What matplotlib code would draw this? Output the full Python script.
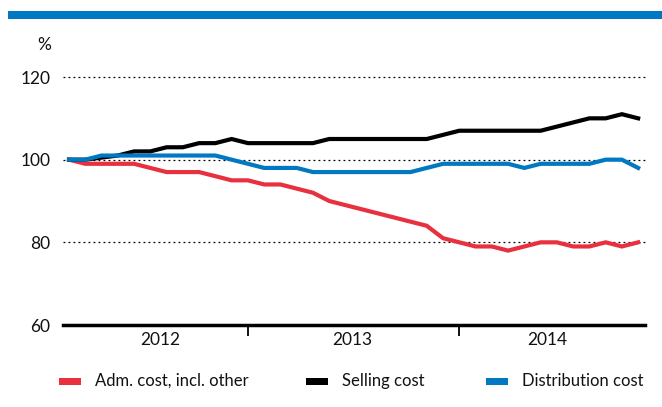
import matplotlib
matplotlib.use("Agg")
import matplotlib.pyplot as plt
from matplotlib.patches import Rectangle
import matplotlib.transforms as mtransforms

plt.rcParams['font.family'] = ['Lato', 'DejaVu Sans']

# Monthly index values (Jan 2012 = 100), 36 points
adm_cost = [100, 99, 99, 99, 99, 98, 97, 97, 97, 96, 95, 95,
            94, 94, 93, 92, 90, 89, 88, 87, 86, 85, 84, 81,
            80, 79, 79, 78, 79, 80, 80, 79, 79, 80, 79, 80]
selling_cost = [100, 100, 100.5, 101, 102, 102, 103, 103, 104, 104, 105, 104,
                104, 104, 104, 104, 105, 105, 105, 105, 105, 105, 105, 106,
                107, 107, 107, 107, 107, 107, 108, 109, 110, 110, 111, 110]
distribution_cost = [100, 100, 101, 101, 101, 101, 101, 101, 101, 101, 100, 99,
                     98, 98, 98, 97, 97, 97, 97, 97, 97, 97, 98, 99,
                     99, 99, 99, 99, 98, 99, 99, 99, 99, 100, 100, 98]

series_names = ["Adm. cost, incl. other", "Selling cost", "Distribution cost"]
series_colors = ["#e8303f", "#000000", "#0079c2"]
year_labels = ["2012", "2013", "2014"]
year_label_pos = [5.6, 17.4, 29.4]
year_separators = [11, 24]
y_ticks = [60, 80, 100, 120]

W, H = 662, 407
fig = plt.figure(figsize=(W / 100, H / 100), dpi=100)

# top band
fig.add_artist(Rectangle((8 / W, 1 - 19 / H), 1 - 8 / W, 8 / H,
                         transform=fig.transFigure, color="#0079c2", lw=0))

ax = fig.add_axes([63 / W, (H - 325) / H, (645 - 63) / W, (325 - 77) / H])
x = list(range(len(adm_cost)))
data = [adm_cost, selling_cost, distribution_cost]
for vals, c in zip(data, series_colors):
    ax.plot(x, vals, color=c, lw=3.0, solid_joinstyle="miter", zorder=3)

ax.set_xlim(-0.37, 35.42)
ax.set_ylim(60, 120)
ax.set_yticks(y_ticks)
ax.set_yticklabels([str(v) for v in y_ticks], fontsize=12.5, color="#111111")
ax.tick_params(axis="y", length=0, pad=9)
for v in y_ticks[1:]:
    ax.axhline(v, color="black", lw=0.9, ls=(0, (1.5, 2.5)), zorder=1, clip_on=False)
for s in ["left", "right", "top"]:
    ax.spines[s].set_visible(False)
ax.spines["bottom"].set_linewidth(2.5)
ax.set_xticks(year_separators)
ax.set_xticklabels([])
ax.tick_params(axis="x", length=8, width=1.3, direction="out")

trans = mtransforms.blended_transform_factory(ax.transData, fig.transFigure)
for lab, pos in zip(year_labels, year_label_pos):
    ax.text(pos, 1 - 340 / H, lab, transform=trans, ha="center", va="center",
            fontsize=12.5, color="#111111")

fig.text(44 / W, 1 - 45 / H, "%", ha="center", va="center", fontsize=12.5, color="#111111")

# legend
leg_x = [59, 306, 486]
for name, c, lx in zip(series_names, series_colors, leg_x):
    fig.add_artist(Rectangle((lx / W, 1 - 385 / H), 22 / W, 7 / H,
                             transform=fig.transFigure, color=c, lw=0))
    fig.text((lx + 36) / W, 1 - 381 / H, name, ha="left", va="center",
             fontsize=12, color="#111111")

fig.savefig("out.png", dpi=100)
